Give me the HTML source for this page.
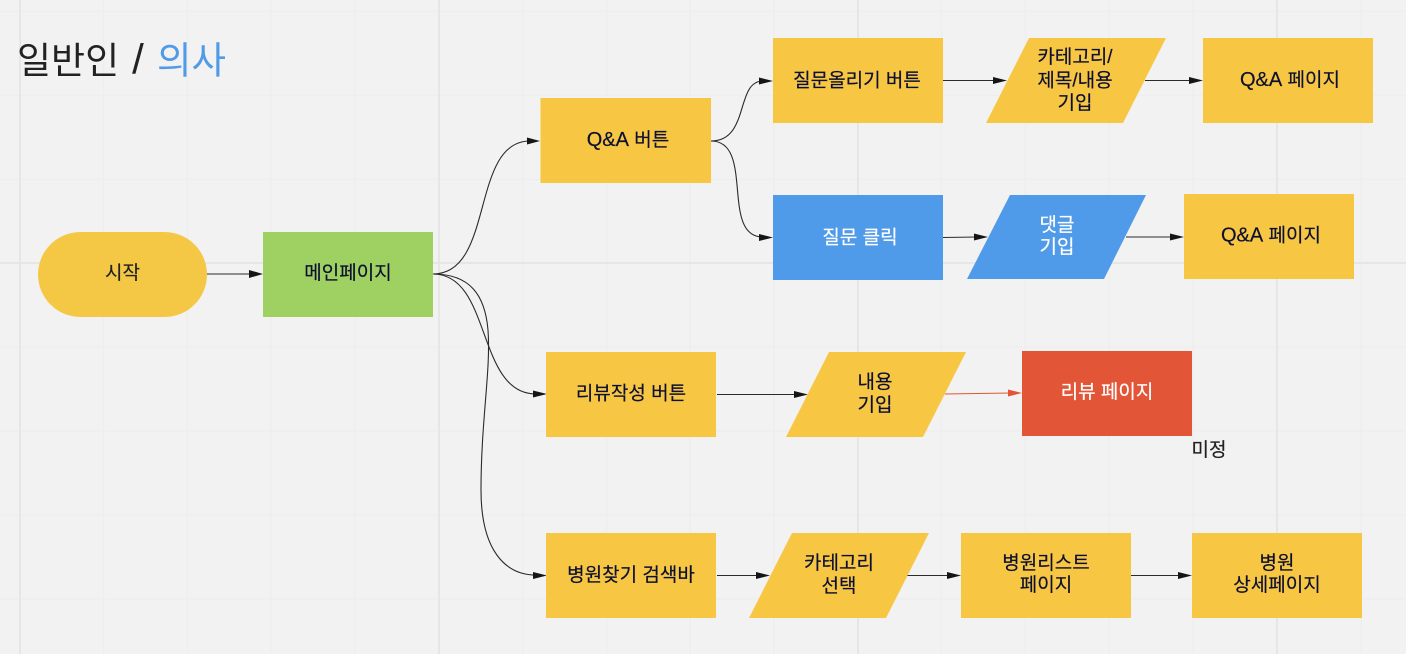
<!DOCTYPE html>
<html lang="ko"><head><meta charset="utf-8"><style>
html,body{margin:0;padding:0;background:#f2f2f2;width:1406px;height:654px;overflow:hidden}
svg{display:block}
text{font-family:"Liberation Sans","Noto Sans CJK KR",sans-serif;font-size:19px;fill:#0d1030;text-anchor:middle;stroke:#0d1030;stroke-width:.2}
text.w{fill:#fff;stroke:#fff}
text.d{fill:#222;stroke:#222}
tspan.q{font-size:20px}
.c{fill:none;stroke:#2a2a2a;stroke-width:1.1}
.h{fill:#151515}
.y{fill:#f7c744}
</style></head><body>
<svg width="1406" height="654" viewBox="0 0 1406 654" xmlns="http://www.w3.org/2000/svg">
<rect width="1406" height="654" fill="#f2f2f2"/>
<g stroke="#eeeeee" stroke-width="1.4">
<path d="M103.500 0V654M187.500 0V654M271 0V654M355 0V654M522.500 0V654M606.500 0V654M690 0V654M774 0V654M941.500 0V654M1025.500 0V654M1109 0V654M1193 0V654M1361 0V654"/>
<path d="M0 11.500H1406M0 95.500H1406M0 179.500H1406M0 347H1406M0 431H1406M0 515H1406M0 599H1406"/>
</g>
<g stroke="#e6e6e6" stroke-width="2">
<path d="M20 0V654M439 0V654M858 0V654M1277 0V654M0 263H1406"/>
</g>
<text x="17" y="73.500" style="font-size:37px;text-anchor:start;fill:#222;stroke:none">일반인</text>
<text x="138" y="73.500" style="font-size:42px;fill:#222;stroke:none">/</text>
<text x="157" y="73.500" style="font-size:37.500px;text-anchor:start;fill:#4f9be8;stroke:none">의사</text>

<g class="c">
<path d="M207 274H252"/>
<path d="M433 274C495 274 470 141 530 141"/>
<path d="M433 274C492 274 476 394 536 394"/>
<path d="M433 274C470 274 485 295 488 330C491 370 481 420 481 490C481 550 505 575 536 575"/>
<path d="M711 141C750 141 735 81 763 81"/>
<path d="M711 141C755 141 720 237 763 237"/>
<path d="M943 80.500H996"/>
<path d="M1145 80.500H1193"/>
<path d="M943 237.500L977 237"/>
<path d="M1126 237H1173"/>
<path d="M717 394.500H797"/>
<path d="M717 575.500H760"/>
<path d="M907 575.500H950"/>
<path d="M1131 575.500H1182"/>
<path d="M945 394L1011 393" stroke="#e25637" style="stroke:#e25637"/>
</g>
<g class="h">
<path d="M263 274L249 270V278Z"/>
<path d="M540 141L527 137.500V144.500Z"/>
<path d="M547 394L533 390.500V397.500Z"/>
<path d="M547 575.500L533 572V579Z"/>
<path d="M773 81L759 77.500V84.500Z"/>
<path d="M773 237.500L759 234V241Z"/>
<path d="M1007 80.500L993 77V84Z"/>
<path d="M1203 80.500L1189 77V84Z"/>
<path d="M988 237L974 233.500V240.500Z"/>
<path d="M1184 237L1170 233.500V240.500Z"/>
<path d="M808 394.500L794 391V398Z"/>
<path d="M770 575.500L756 572V579Z"/>
<path d="M961 575.500L947 572V579Z"/>
<path d="M1192 575.500L1178 572V579Z"/>
</g>
<path d="M1022 393L1008 389.500V396.500Z" fill="#e25637"/>

<rect x="38" y="232" width="169" height="85" rx="42.500" fill="#f4c845"/>
<rect x="263" y="232" width="170" height="85" fill="#9fd162"/>
<rect class="y" x="540.500" y="98" width="170.500" height="85"/>
<rect class="y" x="773" y="38" width="170" height="85"/>
<polygon class="y" points="1029,38 1166,38 1123,123 986,123"/>
<rect class="y" x="1203" y="38" width="170" height="85"/>
<rect x="773" y="195" width="170" height="85" fill="#4f9ae9"/>
<polygon points="1010,195 1146,195 1104,279 967,279" fill="#4f9ae9"/>
<rect class="y" x="1184" y="194" width="170" height="85"/>
<rect class="y" x="546" y="352" width="170" height="85"/>
<polygon class="y" points="829,352 966,352 923,437 786,437"/>
<rect x="1022" y="351" width="170" height="85" fill="#e25637"/>
<rect class="y" x="546" y="533" width="170" height="85"/>
<polygon class="y" points="792,533 929,533 886,618 749,618"/>
<rect class="y" x="961" y="533" width="170" height="85"/>
<rect class="y" x="1192" y="533" width="170" height="85"/>

<text x="122.500" y="279" class="d">시작</text>
<text x="348" y="279">메인페이지</text>
<text x="628" y="146"><tspan class="q">Q&amp;A</tspan> 버튼</text>
<text x="857" y="86.500">질문올리기 버튼</text>
<text x="1075" y="63">카테고리/</text>
<text x="1075" y="86.500">제목/내용</text>
<text x="1075" y="109">기입</text>
<text x="1290" y="86"><tspan class="q">Q&amp;A</tspan> 페이지</text>
<text x="860" y="243.500" class="w">질문 클릭</text>
<text x="1057" y="231" class="w">댓글</text>
<text x="1057" y="253" class="w">기입</text>
<text x="1271" y="241.500"><tspan class="q">Q&amp;A</tspan> 페이지</text>
<text x="631" y="399.500">리뷰작성 버튼</text>
<text x="875" y="388">내용</text>
<text x="875" y="411">기입</text>
<text x="1107" y="398" class="w">리뷰 페이지</text>
<text x="1209" y="456" class="d">미정</text>
<text x="631" y="581">병원찾기 검색바</text>
<text x="839" y="569">카테고리</text>
<text x="839" y="592">선택</text>
<text x="1046" y="569">병원리스트</text>
<text x="1046" y="591">페이지</text>
<text x="1277" y="569">병원</text>
<text x="1277" y="591">상세페이지</text>
</svg>
</body></html>
